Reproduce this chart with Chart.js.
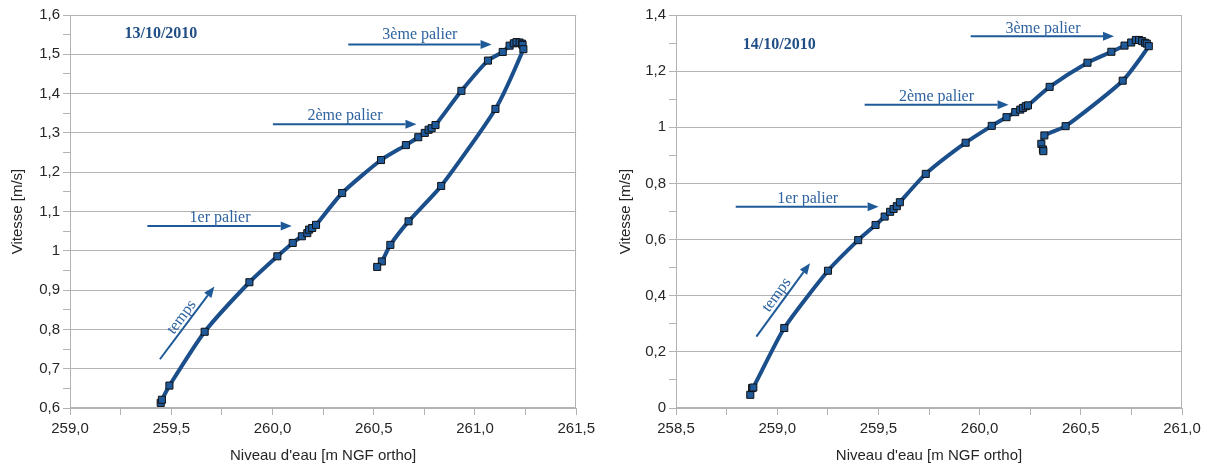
<!DOCTYPE html>
<html>
<head>
<meta charset="utf-8">
<script src="https://cdn.jsdelivr.net/npm/chart.js@4.4.0/dist/chart.umd.min.js"></script>
<style>
  body { margin: 0; background: #fff; }
  #left { position: absolute; left: 0; top: 0; width: 600px; height: 465px; }
  #right { position: absolute; left: 600px; top: 0; width: 613px; height: 465px; }
</style>
</head>
<body>
<div id="left"><canvas id="chart13"></canvas></div>
<div id="right"><canvas id="chart14"></canvas></div>
<script>
// 13/10/2010 - niveau d'eau (m NGF ortho) et vitesse (m/s)
const level13 = [259.448, 259.454, 259.491, 259.665, 259.886, 260.024, 260.100, 260.145, 260.172, 260.181,
  260.196, 260.215, 260.344, 260.536, 260.659, 260.720, 260.752, 260.771, 260.786, 260.805,
  260.933, 261.064, 261.137, 261.171, 261.192, 261.205, 261.220, 261.232, 261.235, 261.239,
  261.101, 260.833, 260.672, 260.582, 260.540, 260.517];
const speed13 = [0.613, 0.621, 0.657, 0.794, 0.920, 0.986, 1.020, 1.037, 1.045, 1.054,
  1.058, 1.066, 1.147, 1.231, 1.269, 1.289, 1.300, 1.308, 1.312, 1.320,
  1.407, 1.484, 1.506, 1.522, 1.528, 1.531, 1.530, 1.527, 1.524, 1.513,
  1.361, 1.165, 1.075, 1.015, 0.973, 0.959];

// 14/10/2010
const level14 = [258.867, 258.876, 258.882, 259.035, 259.251, 259.400, 259.486, 259.531, 259.558, 259.575,
  259.591, 259.606, 259.734, 259.931, 260.060, 260.133, 260.176, 260.201, 260.214, 260.228,
  260.239, 260.346, 260.533, 260.651, 260.716, 260.749, 260.772, 260.788, 260.803, 260.817,
  260.826, 260.836, 260.707, 260.425, 260.320, 260.305, 260.313, 260.315];
const speed14 = [0.047, 0.071, 0.073, 0.285, 0.489, 0.598, 0.652, 0.682, 0.699, 0.709,
  0.719, 0.733, 0.834, 0.945, 1.005, 1.036, 1.054, 1.063, 1.069, 1.075,
  1.078, 1.144, 1.230, 1.269, 1.291, 1.302, 1.311, 1.311, 1.307, 1.301,
  1.298, 1.289, 1.166, 1.004, 0.971, 0.941, 0.921, 0.915];

const xRange13 = [259.0, 261.5];
const yRange13 = [0.6, 1.6];
const xRange14 = [258.5, 261.0];
const yRange14 = [0, 1.4];

// annotations, anchored in data units
const notes13 = {
  date: { text: '13/10/2010', x: 259.269, y: 1.552 },
  paliers: [
    { text: '3ème palier', tx: 260.728, ty: 1.549, x1: 260.374, x2: 261.082, y: 1.525 },
    { text: '2ème palier', tx: 260.358, ty: 1.344, x1: 260.002, x2: 260.711, y: 1.322 },
    { text: '1er palier', tx: 259.741, ty: 1.083, x1: 259.382, x2: 260.095, y: 1.063 }
  ],
  temps: { x1: 259.444, y1: 0.724, x2: 259.713, y2: 0.909, tx: 259.552, ty: 0.831 }
};
const notes14 = {
  date: { text: '14/10/2010', x: 258.830, y: 1.292 },
  paliers: [
    { text: '3ème palier', tx: 260.313, ty: 1.352, x1: 259.956, x2: 260.664, y: 1.324 },
    { text: '2ème palier', tx: 259.787, ty: 1.110, x1: 259.432, x2: 260.143, y: 1.080 },
    { text: '1er palier', tx: 259.151, ty: 0.744, x1: 258.795, x2: 259.501, y: 0.717 }
  ],
  temps: { x1: 258.897, y1: 0.254, x2: 259.162, y2: 0.516, tx: 258.998, ty: 0.403 }
};

const blue = '#1f5a98';
const gridGrey = '#b3b3b3';
const tickText = '#262626';

function fmtX(v) { return v.toFixed(1).replace('.', ','); }
function fmtY(v) {
  const r = Math.round(v * 10) / 10;
  return Number.isInteger(r) ? String(r) : r.toFixed(1).replace('.', ',');
}

function drawArrow(ctx, x1, y1, x2, y2) {
  const ang = Math.atan2(y2 - y1, x2 - x1);
  const head = 11, half = 4.5;
  const bx = x2 - head * Math.cos(ang), by = y2 - head * Math.sin(ang);
  ctx.beginPath();
  ctx.moveTo(x1, y1);
  ctx.lineTo(bx, by);
  ctx.stroke();
  ctx.beginPath();
  ctx.moveTo(x2, y2);
  ctx.lineTo(bx + half * Math.sin(ang), by - half * Math.cos(ang));
  ctx.lineTo(bx - half * Math.sin(ang), by + half * Math.cos(ang));
  ctx.closePath();
  ctx.fill();
}

function notesPlugin(notes) {
  return {
    id: 'notes',
    beforeDatasetsDraw(chart) {
      const a = chart.chartArea, ctx = chart.ctx;
      ctx.save();
      ctx.strokeStyle = gridGrey;
      ctx.lineWidth = 1;
      ctx.strokeRect(Math.round(a.left) + 0.5, Math.round(a.top) + 0.5,
        Math.round(a.width) - 1, Math.round(a.height) - 1);
      ctx.restore();
    },
    afterDatasetsDraw(chart) {
      const ctx = chart.ctx;
      const px = v => chart.scales.x.getPixelForValue(v);
      const py = v => chart.scales.y.getPixelForValue(v);
      ctx.save();
      ctx.fillStyle = '#1f4f86';
      ctx.font = 'bold 16px "Liberation Serif"';
      ctx.textAlign = 'left';
      ctx.textBaseline = 'middle';
      ctx.fillText(notes.date.text, px(notes.date.x), py(notes.date.y));

      ctx.strokeStyle = blue;
      ctx.lineWidth = 2;
      ctx.font = '16px "Liberation Serif"';
      ctx.textAlign = 'center';
      notes.paliers.forEach(p => {
        ctx.fillStyle = blue;
        drawArrow(ctx, px(p.x1), py(p.y), px(p.x2), py(p.y));
        ctx.fillStyle = '#2f63a0';
        ctx.fillText(p.text, px(p.tx), py(p.ty));
      });

      const t = notes.temps;
      const x1 = px(t.x1), y1 = py(t.y1), x2 = px(t.x2), y2 = py(t.y2);
      ctx.fillStyle = blue;
      drawArrow(ctx, x1, y1, x2, y2);
      ctx.save();
      ctx.translate(px(t.tx), py(t.ty));
      ctx.rotate(Math.atan2(y2 - y1, x2 - x1));
      ctx.fillStyle = '#2f63a0';
      ctx.fillText('temps', 0, 0);
      ctx.restore();
      ctx.restore();
    }
  };
}

function makeChart(id, level, speed, xRange, yRange, yStep, isMajorY, yWidth, rightPad, titlePad, notes) {
  const points = level.map((x, i) => ({ x: x, y: speed[i] }));
  return new Chart(document.getElementById(id), {
    type: 'scatter',
    data: {
      datasets: [{
        data: points,
        showLine: true,
        borderColor: '#1b4f8c',
        borderWidth: 4,
        tension: 0.2,
        pointStyle: 'rect',
        pointRadius: 5,
        pointBackgroundColor: '#1f5a9a',
        pointBorderColor: '#111',
        pointBorderWidth: 1,
        clip: false
      }]
    },
    options: {
      responsive: true,
      maintainAspectRatio: false,
      animation: false,
      layout: { padding: { top: 15, right: rightPad, left: 0, bottom: 0 } },
      plugins: { legend: { display: false }, tooltip: { enabled: false } },
      scales: {
        x: {
          type: 'linear',
          min: xRange[0],
          max: xRange[1],
          afterFit: s => { s.height = 57; },
          border: { color: gridGrey },
          grid: { drawOnChartArea: false, tickColor: gridGrey, tickLength: 7 },
          ticks: {
            stepSize: 0.25,
            autoSkip: false,
            maxRotation: 0,
            padding: 5,
            color: tickText,
            font: { family: '"Liberation Sans", Arial, sans-serif', size: 15 },
            callback: v => (Math.round(v * 100) % 50 === 0 ? fmtX(v) : '')
          },
          title: {
            display: true,
            text: "Niveau d'eau [m NGF ortho]",
            color: tickText,
            font: { family: '"Liberation Sans", Arial, sans-serif', size: 15 },
            padding: { top: 0, bottom: 0 }
          }
        },
        y: {
          type: 'linear',
          min: yRange[0],
          max: yRange[1],
          afterFit: s => { s.width = yWidth; },
          border: { color: gridGrey },
          grid: {
            color: c => (c.tick && isMajorY(c.tick.value) ? gridGrey : 'rgba(0,0,0,0)'),
            tickColor: gridGrey,
            tickLength: 7
          },
          ticks: {
            stepSize: yStep,
            autoSkip: false,
            padding: 3,
            color: tickText,
            font: { family: '"Liberation Sans", Arial, sans-serif', size: 15 },
            callback: v => (isMajorY(v) ? fmtY(v) : '')
          },
          title: {
            display: true,
            text: 'Vitesse [m/s]',
            color: tickText,
            font: { family: '"Liberation Sans", Arial, sans-serif', size: 15 },
            padding: { top: titlePad, bottom: 0 }
          }
        }
      }
    },
    plugins: [notesPlugin(notes)]
  });
}

makeChart('chart13', level13, speed13, xRange13, yRange13, 0.05,
  v => Math.round(v * 100) % 10 === 0, 70, 23, 9, notes13);
makeChart('chart14', level14, speed14, xRange14, yRange14, 0.1,
  v => Math.round(v * 10) % 2 === 0, 76, 31, 17, notes14);
</script>
</body>
</html>
